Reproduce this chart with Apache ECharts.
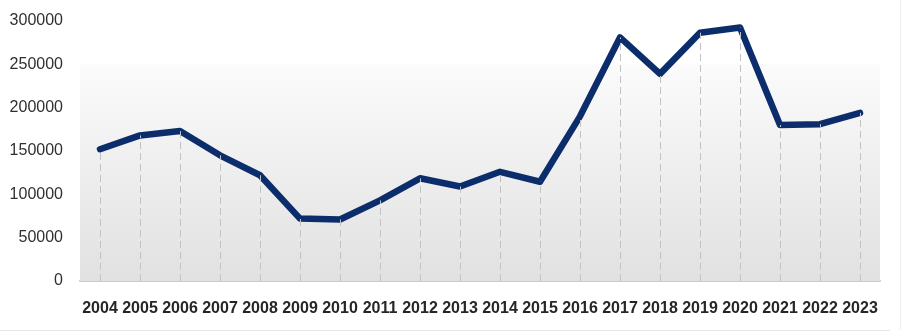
<!DOCTYPE html>
<html>
<head>
<meta charset="utf-8">
<script src="https://cdn.jsdelivr.net/npm/echarts@6/dist/echarts.min.js"></script>
<style>
html,body{margin:0;padding:0;background:#fff;}
#chart{width:903px;height:333px;}
</style>
</head>
<body>
<div id="chart"></div>
<script>
var years = ['2004','2005','2006','2007','2008','2009','2010','2011','2012','2013','2014','2015','2016','2017','2018','2019','2020','2021','2022','2023'];
var values = [152000,168000,173000,145000,122000,72000,71000,93000,118500,109000,126000,114500,190000,281000,239000,286500,292500,180000,181000,194000];
var yTicks = [0,50000,100000,150000,200000,250000,300000];

var chart = echarts.init(document.getElementById('chart'), null, {renderer:'canvas'});

var dropLines = values.map(function(v, i){
  return [{coord:[i, 0]}, {coord:[i, v]}];
});

chart.setOption({
  animation:false,
  backgroundColor:'#ffffff',
  grid:{left:80, right:23, top:21, bottom:52, containLabel:false},
  xAxis:{
    type:'category',
    data:years,
    boundaryGap:true,
    axisLine:{show:true, lineStyle:{color:'#c9c9c9', width:2}},
    axisTick:{show:false},
    axisLabel:{interval:0, color:'#262626', fontFamily:'Liberation Sans', fontWeight:'bold', fontSize:16, margin:20},
    splitLine:{show:false}
  },
  yAxis:{
    type:'value',
    min:yTicks[0],
    max:yTicks[yTicks.length-1],
    interval:yTicks[1]-yTicks[0],
    axisLine:{show:false},
    axisTick:{show:false},
    splitLine:{show:false},
    axisLabel:{color:'#303030', fontFamily:'Liberation Sans', fontSize:16, margin:17,
      formatter:function(v){ return String(v); }}
  },
  series:[
    {
      type:'line',
      data:[],
      z:1,
      silent:true,
      markArea:{
        silent:true,
        itemStyle:{
          color:new echarts.graphic.LinearGradient(0,0,0,1,[
            {offset:0, color:'#fbfbfb'},
            {offset:1, color:'#e1e1e1'}
          ])
        },
        data:[[{yAxis:yTicks[0]},{yAxis:yTicks[5]}]]
      },
      markLine:{
        silent:true,
        symbol:['none','none'],
        label:{show:false},
        lineStyle:{type:[7,4], color:'#c2c2c2', width:1},
        data:dropLines
      }
    },
    {
      type:'line',
      data:values,
      z:3,
      symbol:'none',
      lineStyle:{color:'#0c2d6b', width:6.5, join:'round', cap:'round'},
      itemStyle:{color:'#0c2d6b'}
    }
  ],
  graphic:[
    {type:'line', shape:{x1:0, y1:330.5, x2:890, y2:330.5}, style:{stroke:'#e6e6e6', lineWidth:1}, silent:true},
    {type:'line', shape:{x1:900.5, y1:0, x2:900.5, y2:330}, style:{stroke:'#eeeeee', lineWidth:1}, silent:true}
  ]
});
</script>
</body>
</html>
